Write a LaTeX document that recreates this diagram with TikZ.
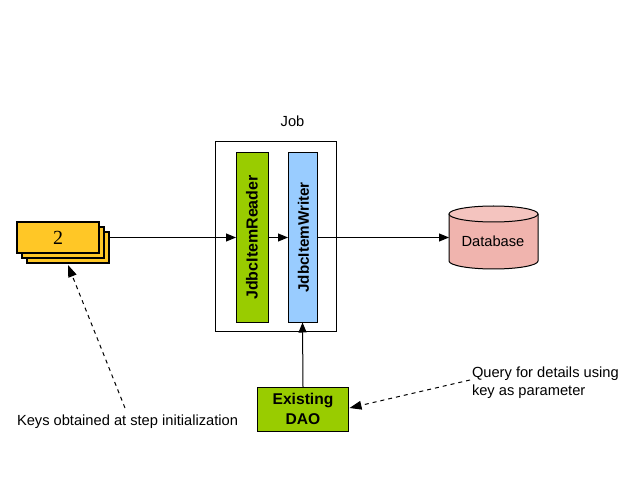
\documentclass[tikz,border=0pt]{standalone}
\usepackage{fontspec}
\setmainfont{Liberation Sans}
\newfontfamily\numfont{Liberation Serif}
\usetikzlibrary{arrows.meta}
\definecolor{cardc}{HTML}{FFC726}
\definecolor{greenc}{HTML}{99CC00}
\definecolor{bluec}{HTML}{99CCFF}
\definecolor{dbc}{HTML}{F0B4AE}
\definecolor{dbtop}{HTML}{F4C4BF}
\tikzset{
  x=0.75pt,y=-0.75pt,
  every node/.style={inner sep=0pt,outer sep=0pt,font=\fontsize{11pt}{13.5pt}\selectfont},
  card/.style={draw=black,line width=1.2pt,fill=cardc,minimum width=61.5pt,minimum height=23.2pt},
  flow/.style={draw=black,line width=0.75pt,-{Triangle[length=7.5pt,width=6pt]}},
  note/.style={draw=black,line width=0.75pt,dash pattern=on 3pt off 3pt,-{Triangle[length=9pt,width=6.5pt]}},
  dbline/.style={draw=black,line width=0.75pt},
}
\begin{document}
\begin{tikzpicture}
\useasboundingbox (0,0) rectangle (642,491);
\node[card] (c3) at (68,247.5) {};
\node[card] (c2) at (63,242.5) {};
\node[card] (c1) at (58,237.5) {\fontsize{15pt}{16pt}\selectfont\numfont 2};
\node[draw=black,line width=0.75pt,minimum width=90.75pt,minimum height=142.5pt] (job) at (275.5,237) {};
\node at (292.5,121) (joblabel) {Job};
\node[draw=black,line width=0.75pt,fill=greenc,minimum width=24pt,minimum height=127.5pt] (reader) at (252,237.5) {};
\node[rotate=90,font=\bfseries\fontsize{12pt}{14pt}\selectfont] at (252,237.5) (readerlabel) {JdbcItemReader};
\node[draw=black,line width=0.75pt,fill=bluec,minimum width=21.75pt,minimum height=127.5pt] (writer) at (302.5,237.5) {};
\node[rotate=90,font=\bfseries\fontsize{11.4pt}{14pt}\selectfont] at (303.5,237.5) (writerlabel) {JdbcItemWriter};
\path[fill=dbc,dbline] (449,214) -- (449,261) arc[start angle=180,end angle=0,x radius=44.5,y radius=8] -- (538,214);
\path[fill=dbtop,dbline] (493.5,214) ellipse[x radius=44.5,y radius=8];
\node[minimum width=66.75pt,minimum height=47.25pt] (db) at (493.5,237.5) {};
\node at (493,241) (dblabel) {Database};
\node[draw=black,line width=0.75pt,fill=greenc,minimum width=68.25pt,minimum height=33pt,align=center,font=\bfseries\fontsize{11.7pt}{14.5pt}\selectfont] (dao) at (303,409) {Existing\\DAO};
\node[anchor=west,align=left] at (472,383) (query) {Query for details using\\key as parameter};
\node[anchor=west] at (17,421.5) (keys) {Keys obtained at step initialization};
\coordinate (keystart) at (125,408);
\coordinate (cardtip) at (68,265);
\coordinate (querystart) at (470,380);
\coordinate (daotip) at (349.5,408);
\draw[flow] (c3.east |- reader.west) -- (reader.west);
\draw[flow] (reader.east) -- (writer.west);
\draw[flow] (writer.east) -- (db.west |- writer.east);
\draw[flow] (dao.north) -- (writer.south);
\draw[note] (keystart) -- (cardtip);
\draw[note] (querystart) -- (daotip);
\end{tikzpicture}
\end{document}
